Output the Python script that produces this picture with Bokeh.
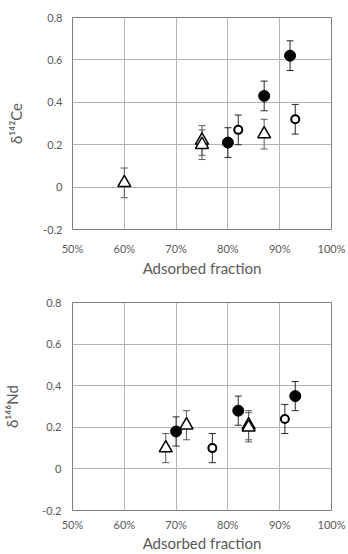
from bokeh.plotting import figure
from bokeh.layouts import column
from bokeh.models import ColumnDataSource, Whisker, TeeHead, FixedTicker, Range1d
from bokeh.embed import file_html
from bokeh.resources import INLINE

# ---- data ----
x_ticks = [0.5, 0.6, 0.7, 0.8, 0.9, 1.0]
x_labels = ["50%", "60%", "70%", "80%", "90%", "100%"]
y_ticks = [-0.2, 0.0, 0.2, 0.4, 0.6, 0.8]
y_labels = ["-0.2", "0", "0.2", "0.4", "0.6", "0.8"]

ce_filled_x = [0.80, 0.87, 0.92]
ce_filled_y = [0.21, 0.43, 0.62]
ce_filled_err = [0.07, 0.07, 0.07]
ce_open_x = [0.82, 0.93]
ce_open_y = [0.27, 0.32]
ce_open_err = [0.07, 0.07]
ce_tri_x = [0.60, 0.75, 0.75, 0.87]
ce_tri_y = [0.02, 0.22, 0.20, 0.25]
ce_tri_err = [0.07, 0.07, 0.07, 0.07]

nd_filled_x = [0.70, 0.82, 0.93]
nd_filled_y = [0.18, 0.28, 0.35]
nd_filled_err = [0.07, 0.07, 0.07]
nd_open_x = [0.77, 0.91]
nd_open_y = [0.10, 0.24]
nd_open_err = [0.07, 0.07]
nd_tri_x = [0.68, 0.72, 0.84, 0.84]
nd_tri_y = [0.10, 0.21, 0.21, 0.20]
nd_tri_err = [0.07, 0.07, 0.07, 0.07]

FONT = "Lato"
TXT = "#595959"


def src(x, y, e):
    return ColumnDataSource(dict(x=x, y=y, lo=[a - b for a, b in zip(y, e)],
                                 hi=[a + b for a, b in zip(y, e)]))


def make_fig(width, height, bl, br, bt, bb, ylab, filled, opened, tri,
             xstand, xlabstand, ystand, ylabstand):
    p = figure(width=width, height=height, output_backend="svg", toolbar_location=None,
               x_range=Range1d(0.5, 1.0), y_range=Range1d(-0.2, 0.8),
               min_border_left=bl, min_border_right=br, min_border_top=bt,
               min_border_bottom=bb)
    p.outline_line_color = "#7f7f7f"
    p.outline_line_width = 1
    p.background_fill_color = "white"
    p.border_fill_color = "white"
    for ax in (p.xaxis[0], p.yaxis[0]):
        ax.axis_line_color = None
        ax.major_tick_line_color = None
        ax.minor_tick_line_color = None
        ax.major_tick_out = 0
        ax.major_tick_in = 0
        ax.minor_tick_out = 0
        ax.minor_tick_in = 0
        ax.major_label_text_font = FONT
        ax.major_label_text_font_size = "11px"
        ax.major_label_text_color = TXT
        ax.axis_label_text_font = FONT
        ax.axis_label_text_font_style = "normal"
        ax.axis_label_text_color = TXT
        ax.axis_label_text_font_size = "15px"
    p.xaxis.ticker = FixedTicker(ticks=x_ticks)
    p.xaxis.major_label_overrides = dict(zip(x_ticks, x_labels))
    p.yaxis.ticker = FixedTicker(ticks=y_ticks)
    p.yaxis.major_label_overrides = dict(zip(y_ticks, y_labels))
    p.xaxis.axis_label = "Adsorbed fraction"
    p.yaxis.axis_label = ylab
    p.xaxis.major_label_standoff = xstand
    p.xaxis.axis_label_standoff = xlabstand
    p.yaxis.major_label_standoff = ystand
    p.yaxis.axis_label_standoff = ylabstand
    p.xgrid.grid_line_color = "#b3b3b3"
    p.ygrid.grid_line_color = "#b3b3b3"
    p.xgrid.ticker = FixedTicker(ticks=x_ticks)
    p.ygrid.ticker = FixedTicker(ticks=y_ticks)

    sf, so, st = src(*filled), src(*opened), src(*tri)
    for s, col in ((sf, "#262626"), (so, "#262626"), (st, "#595959")):
        w = Whisker(source=s, base="x", upper="hi", lower="lo", dimension="height",
                    line_color=col, line_width=1,
                    upper_head=TeeHead(size=7, line_color=col, line_width=1),
                    lower_head=TeeHead(size=7, line_color=col, line_width=1))
        p.add_layout(w)
    p.scatter("x", "y", source=sf, marker="circle", size=11, fill_color="black",
              line_color="black")
    p.scatter("x", "y", source=so, marker="circle", size=8, fill_color="white",
              line_color="black", line_width=2)
    p.scatter("x", "y", source=st, marker="triangle", size=13, fill_color="white",
              line_color="black", line_width=1.5)
    return p


p1 = make_fig(348, 279, 61, 17, 17, 50, "δ¹⁴²Ce",
              (ce_filled_x, ce_filled_y, ce_filled_err),
              (ce_open_x, ce_open_y, ce_open_err),
              (ce_tri_x, ce_tri_y, ce_tri_err), 12, 1, 10, 15)
p2 = make_fig(348, 275, 67, 13, 23, 43, "δ¹⁴⁶Nd",
              (nd_filled_x, nd_filled_y, nd_filled_err),
              (nd_open_x, nd_open_y, nd_open_err),
              (nd_tri_x, nd_tri_y, nd_tri_err), 7, 0, 11, 18)

layout = column(p1, p2, spacing=0)
open("out.html", "w").write(file_html(layout, INLINE))
